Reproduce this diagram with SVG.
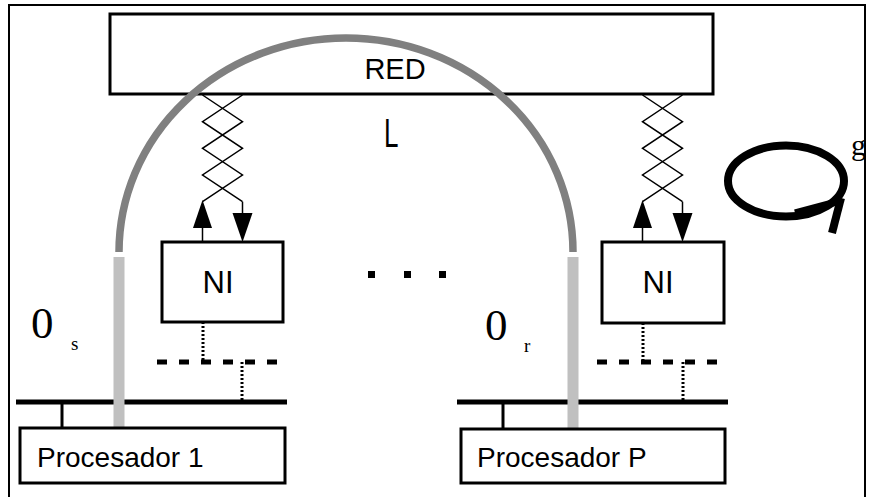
<svg xmlns="http://www.w3.org/2000/svg" width="871" height="497" viewBox="0 0 871 497">
<style>
.box{fill:#fff;stroke:#000;stroke-width:3}
.sans{font-family:"Liberation Sans",Arial,sans-serif;fill:#000}
.serif{font-family:"Liberation Serif","Times New Roman",serif;fill:#000}
.zz{fill:none;stroke:#000;stroke-width:1.5}
.bus{stroke:#000;stroke-width:5}
.stub{stroke:#000;stroke-width:3}
.dash{stroke:#000;stroke-width:5;stroke-dasharray:10 12}
.dot{stroke:#000;stroke-width:3;stroke-dasharray:2 2}
</style>
<defs>
<g id="link">
<polyline class="zz" points="202.5,95 242.5,121.7 202.5,148.3 242.5,175 202.5,201.7"/>
<polyline class="zz" points="242.5,95 202.5,121.7 242.5,148.3 202.5,175 242.5,201.7"/>
<line class="zz" x1="202.5" y1="228" x2="202.5" y2="242"/>
<polygon points="202.5,200 193,228 212,228" fill="#000"/>
<line class="zz" x1="242.5" y1="201.7" x2="242.5" y2="214"/>
<polygon points="232.5,213 252.5,213 242.5,242" fill="#000"/>
</g>
</defs>
<rect x="9" y="5" width="856" height="500" fill="#fff" stroke="#000" stroke-width="2"/>

<g id="connectors">
<use href="#link"/>
<use href="#link" transform="translate(440,0)"/>
<line class="bus" x1="16" y1="402" x2="287" y2="402"/>
<line class="stub" x1="62" y1="402" x2="62" y2="428"/>
<line class="bus" x1="457" y1="402" x2="728" y2="402"/>
<line class="stub" x1="503" y1="402" x2="503" y2="429"/>
<line class="dash" x1="157" y1="362" x2="277" y2="362"/>
<line class="dot" x1="203" y1="322" x2="203" y2="362"/>
<line class="dot" x1="242" y1="362" x2="242" y2="402"/>
<line class="dash" x1="597" y1="362" x2="717" y2="362"/>
<line class="dot" x1="643" y1="323" x2="643" y2="362"/>
<line class="dot" x1="683" y1="362" x2="683" y2="402"/>
</g>

<g id="red">
<rect class="box" x="110" y="14" width="603" height="80"/>
</g>

<g id="arc">
<path d="M119,252 A227,214 0 0 1 573,252" fill="none" stroke="#808080" stroke-width="7.5"/>
<line x1="119" y1="257" x2="119" y2="444" stroke="#c0c0c0" stroke-width="11"/>
<line x1="573" y1="257" x2="573" y2="437" stroke="#c0c0c0" stroke-width="11"/>
</g>
<text class="sans" x="395" y="79" font-size="29" text-anchor="middle">RED</text>

<g id="ni1">
<rect class="box" x="162" y="242" width="121" height="80"/>
<text class="sans" x="218" y="293" font-size="31" text-anchor="middle">NI</text>
</g>
<g id="ni2">
<rect class="box" x="602" y="242" width="122" height="81"/>
<text class="sans" x="658" y="293" font-size="31" text-anchor="middle">NI</text>
</g>

<g id="proc1">
<rect class="box" x="20" y="428" width="265" height="55"/>
<text class="sans" x="37" y="467" font-size="28">Procesador 1</text>
</g>
<g id="procP">
<rect class="box" x="461" y="429" width="264" height="54"/>
<text class="sans" x="477" y="467" font-size="28">Procesador P</text>
</g>

<g id="dots" fill="#000">
<rect x="368" y="271" width="7" height="7"/>
<rect x="404" y="271" width="7" height="7"/>
<rect x="439" y="271" width="7" height="7"/>
</g>

<text class="sans" x="384" y="147" font-size="26" transform="translate(384,147) scale(1,1.55) translate(-384,-147)">L</text>

<text class="serif" x="31" y="338" font-size="45">0</text>
<text class="serif" x="71" y="350" font-size="19">s</text>
<text class="serif" x="485" y="340" font-size="45">0</text>
<text class="serif" x="524" y="352" font-size="19">r</text>

<g id="loop">
<ellipse cx="786" cy="181" rx="58" ry="35.5" fill="none" stroke="#000" stroke-width="8"/>
<line x1="795" y1="213" x2="840" y2="201" stroke="#000" stroke-width="7"/>
<line x1="841" y1="198" x2="832" y2="233" stroke="#000" stroke-width="8"/>
</g>
<text class="serif" x="851" y="155" font-size="30">g</text>
</svg>
